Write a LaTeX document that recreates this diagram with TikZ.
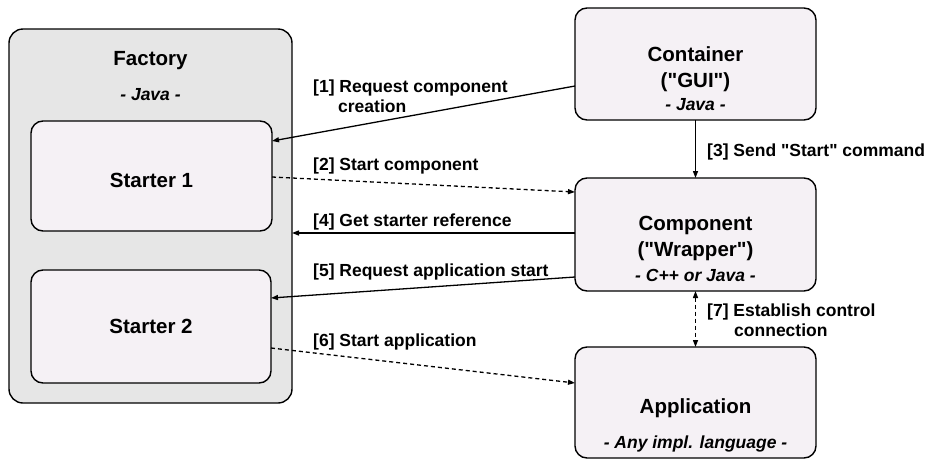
\documentclass[tikz,border=0pt]{standalone}
\usepackage{fontspec}
\setmainfont{Liberation Sans}[Ligatures=TeXOff]
\usetikzlibrary{arrows.meta}
\definecolor{factfill}{HTML}{E6E6E6}
\definecolor{boxfill}{HTML}{F5F1F5}
\tikzset{
  frame/.style={draw=black, line width=1.4pt, rounded corners=12pt, inner sep=0pt, outer sep=0pt},
  factorybox/.style={frame, fill=factfill, rounded corners=14pt},
  compbox/.style={frame, fill=boxfill},
  ttl/.style={anchor=base, inner sep=0pt, font=\fontsize{20.5}{24}\selectfont\bfseries},
  sub/.style={anchor=base, inner sep=0pt, font=\fontsize{17.5}{20}\selectfont\bfseries\itshape},
  lbl/.style={anchor=base west, inner sep=0pt, font=\fontsize{17.5}{20}\selectfont\bfseries},
  arr/.style={line width=1.3pt, -{Triangle[length=7pt,width=5pt]}},
  darr/.style={arr, dash pattern=on 4pt off 3pt},
}
\begin{document}
\begin{tikzpicture}[x=1pt,y=-1pt]
\useasboundingbox (0,0) rectangle (927,461);
% boxes
\node[factorybox, minimum width=283pt, minimum height=374pt] (factory) at (150.5,216) {};
\node[compbox, minimum width=241pt, minimum height=110pt] (starter1) at (151.5,176) {};
\node[compbox, minimum width=240pt, minimum height=113pt] (starter2) at (151,326.5) {};
\node[compbox, minimum width=241pt, minimum height=112pt] (container) at (695.5,64) {};
\node[compbox, minimum width=241pt, minimum height=113pt] (component) at (695.5,234.5) {};
\node[compbox, minimum width=241pt, minimum height=111pt] (application) at (695.5,402.5) {};
% box texts
\node[ttl] (tfac) at (150.5,65) {Factory};
\node[sub] (sfac) at (150.5,100) {- Java -};
\node[ttl] (ts1) at (151.5,187) {Starter 1};
\node[ttl] (ts2) at (151,333) {Starter 2};
\node[ttl] (tcon1) at (695.5,61) {Container};
\node[ttl] (tcon2) at (695.5,87) {("GUI")};
\node[sub] (scon) at (695.5,110) {- Java -};
\node[ttl] (tcmp1) at (695.5,230) {Component};
\node[ttl] (tcmp2) at (695.5,256.5) {("Wrapper")};
\node[sub] (scmp) at (695.5,281) {- C++ or Java -};
\node[ttl] (tapp) at (695.5,413) {Application};
\node[sub] (sapp) at (695.5,448) {- Any impl. language -};
% connectors
\draw[arr] ([yshift=-22pt]container.west) -- ([yshift=35pt]starter1.east);
\draw[darr] ([yshift=-1pt]starter1.east) -- ([yshift=42.5pt]component.west);
\draw[arr] (container.south) -- (component.north);
\draw[arr] ([yshift=1.5pt]component.west) -- ([yshift=1.5pt]component.west -| factory.east);
\draw[arr] ([yshift=-42.5pt]component.west) -- ([yshift=28.5pt]starter2.east);
\draw[darr] ([yshift=-21.5pt]starter2.east) -- ([yshift=19.5pt]application.west);
\draw[darr, {Triangle[length=7pt,width=5pt]}-{Triangle[length=7pt,width=5pt]}] (component.south) -- (application.north);
% labels
\node[lbl] (l1a) at (313,92) {[1] Request component};
\node[lbl] (l1b) at (338,112.5) {creation};
\node[lbl] (l2) at (313,170) {[2] Start component};
\node[lbl] (l3) at (707,156.5) {[3] Send "Start" command};
\node[lbl] (l4) at (313,226.5) {[4] Get starter reference};
\node[lbl] (l5) at (313,276) {[5] Request application start};
\node[lbl] (l6) at (313,346.5) {[6] Start application};
\node[lbl] (l7a) at (707,316) {[7] Establish control};
\node[lbl] (l7b) at (734,336) {connection};
\end{tikzpicture}
\end{document}
